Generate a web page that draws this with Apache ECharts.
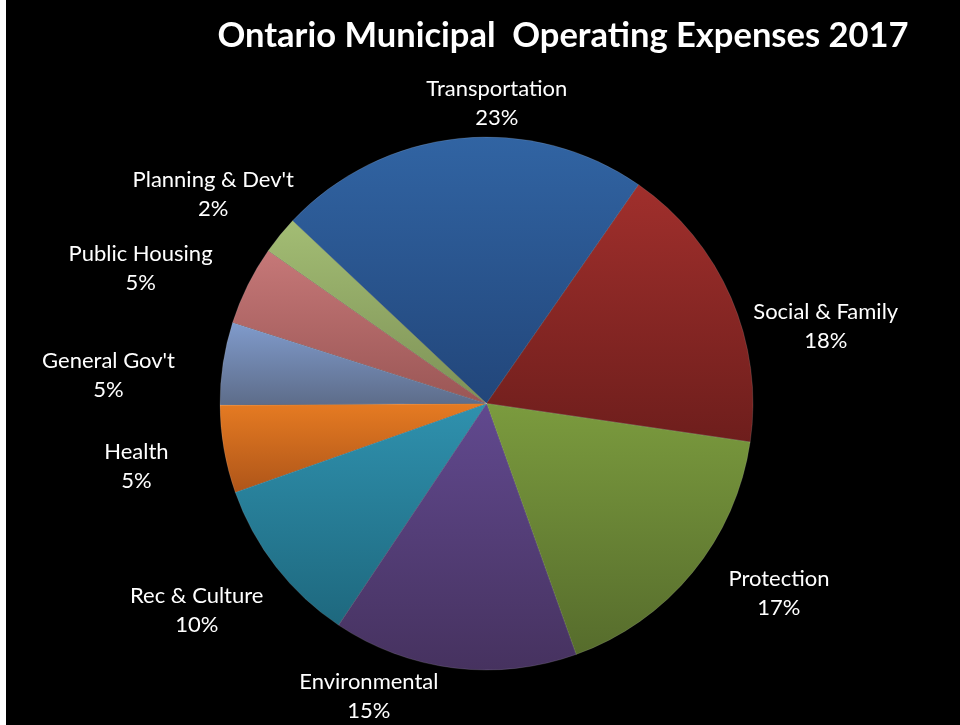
<!DOCTYPE html>
<html>
<head>
<meta charset="utf-8">
<script src="https://cdn.jsdelivr.net/npm/echarts@6/dist/echarts.min.js"></script>
<style>
html,body{margin:0;padding:0;background:#000;}
#chart{width:960px;height:725px;}
</style>
</head>
<body>
<div id="chart"></div>
<script>
// ---- data ----
const categories = ["Transportation", "Social & Family", "Protection", "Environmental", "Rec & Culture", "Health", "General Gov't", "Public Housing", "Planning & Dev't"];
const shares = [22.6, 17.6, 17.2, 14.8, 10.2, 5.3, 5.0, 4.8, 2.3];
const titleText = "Ontario Municipal  Operating Expenses 2017";

// ---- styling ----
const colorsTop    = ["#3164A3", "#A02F2C", "#7B9B3E", "#61498F", "#2F91AE", "#E67B22", "#809BCC", "#C67878", "#A3BD74"];
const colorsBottom = ["#22467A", "#6E1E1C", "#566C2C", "#46325F", "#1E687E", "#AE5519", "#5D6C89", "#9A5655", "#7D9156"];
// label placement relative to each slice's mid angle (degrees clockwise) and distance beyond the rim (px)
const labelAngleShift = [7.9, 10.6, -6.3, 14.8, 2.3, -0.3, -4.4, -5.0, -1.7];
const labelOffset = [33.7, 81.4, 82.3, 49.6, 89.7, 89.2, 112.5, 104.9, 77.7];

const chart = echarts.init(document.getElementById('chart'), null, {renderer: 'canvas'});

const pieData = categories.map((name, i) => ({
  name: name,
  value: shares[i],
  itemStyle: {
    color: {
      type: 'linear', x: 0, y: 0, x2: 0, y2: 1,
      colorStops: [{offset: 0, color: colorsTop[i]}, {offset: 1, color: colorsBottom[i]}]
    }
  }
}));

const option = {
  backgroundColor: '#000',
  animation: false,
  title: {
    text: titleText,
    left: 558,
    top: 11,
    textAlign: 'center',
    textStyle: {
      color: '#fff',
      fontFamily: 'Lato',
      fontWeight: 'bold',
      fontSize: 34.5,
      lineHeight: 40
    }
  },
  graphic: [{
    type: 'rect',
    shape: {x: 0, y: 0, width: 6, height: 725},
    style: {fill: '#fff'},
    silent: true
  }],
  series: [{
    type: 'pie',
    center: [486.5, 403.5],
    radius: 266.5,
    startAngle: 136.7,
    clockwise: true,
    avoidLabelOverlap: false,
    itemStyle: {
      borderColor: 'rgba(255,255,255,0.13)',
      borderWidth: 1
    },
    label: {
      show: true,
      position: 'outside',
      color: '#fff',
      fontFamily: 'Lato',
      fontSize: 22,
      lineHeight: 29,
      formatter: function (p) { return p.name + '\n' + Math.round(p.percent) + '%'; }
    },
    labelLine: {show: false},
    emphasis: {disabled: true},
    labelLayout: function (p) {
      const i = p.dataIndex;
      let cx, cy, r, mid;
      try {
        const lay = chart.getModel().getSeriesByIndex(0).getData().getItemLayout(i);
        cx = lay.cx; cy = lay.cy; r = lay.r;
        mid = (lay.startAngle + lay.endAngle) / 2;
      } catch (e) {
        return {};
      }
      const a = mid + labelAngleShift[i] * Math.PI / 180;
      const d = r + labelOffset[i];
      return {
        x: cx + d * Math.cos(a),
        y: cy + d * Math.sin(a),
        align: 'center',
        verticalAlign: 'middle'
      };
    },
    data: pieData
  }]
};

chart.setOption(option);
</script>
</body>
</html>
